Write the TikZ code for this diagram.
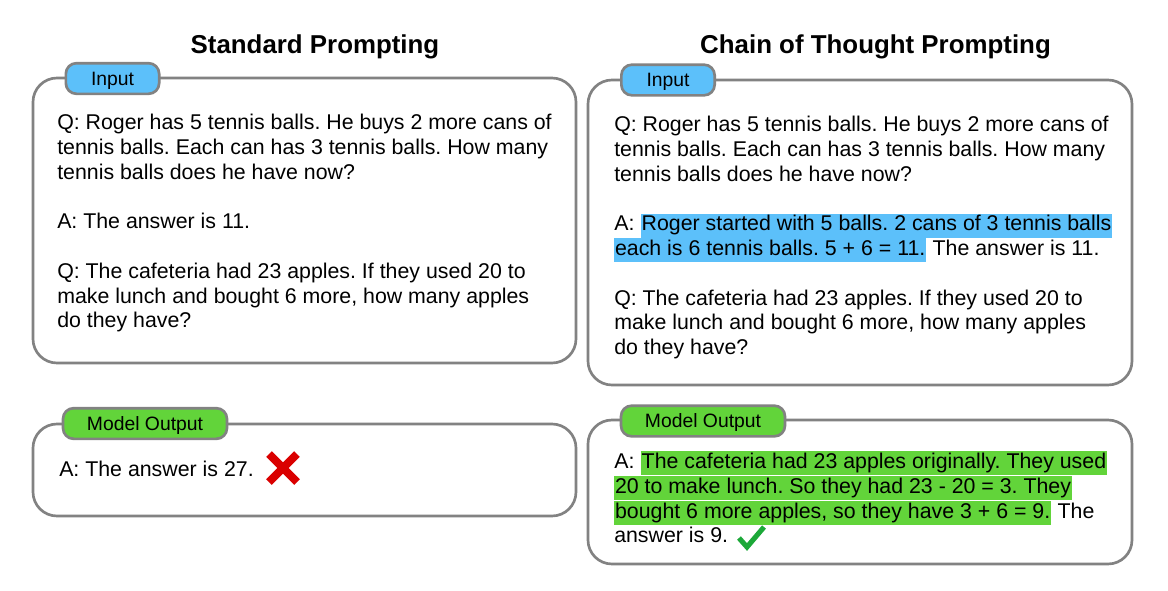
\documentclass[tikz,border=0pt]{standalone}
\usepackage{fontspec}
\setmainfont{Liberation Sans}
\usetikzlibrary{positioning}
\frenchspacing

\definecolor{boxgray}{RGB}{130,130,130}
\definecolor{inblue}{RGB}{92,192,250}
\definecolor{outgreen}{RGB}{98,212,58}
\definecolor{crossred}{RGB}{218,0,0}
\definecolor{tickgreen}{RGB}{28,168,56}

\begin{document}
\begin{tikzpicture}[x=0.75pt, y=-0.75pt,
    panel/.style={draw=boxgray, line width=2pt, rounded corners=18pt, fill=white},
    tab/.style={rectangle, draw=boxgray, line width=2pt, rounded corners=8pt, minimum height=23pt, inner sep=0pt, text height=10.4pt, text depth=0pt, font=\fontsize{14.5}{17}\selectfont},
    tabin/.style={tab, fill=inblue, minimum width=70pt},
    tabout/.style={tab, fill=outgreen, minimum width=123pt},
    heading/.style={font=\fontsize{19.4}{23}\selectfont\bfseries, text height=14pt, text depth=0pt},
    line/.style={anchor=base west, inner sep=0pt, font=\fontsize{16}{18.6}\selectfont},
    hl/.style={line, inner xsep=0.6pt, text height=12.9pt, text depth=5.2pt},
    hlin/.style={hl, fill=inblue},
    hlout/.style={hl, fill=outgreen}
  ]
    \useasboundingbox[fill=white] (0,0) rectangle (1168,590);

    % Headings
    \node (s_title) [heading] at (315,44) {Standard Prompting};
    \node (c_title) [heading] at (875.5,44) {Chain of Thought Prompting};

    % Standard Prompting
    \draw[panel] (33,78) rectangle (576,363);
    \node (s_intab) [tabin] at (112.5,78.5) {Input};
    \node (s_q1) [line] at (57,129.5) {Q: Roger has 5 tennis balls. He buys 2 more cans of};
    \node (s_q2) [line] at (57,154.3) {tennis balls. Each can has 3 tennis balls. How many};
    \node (s_q3) [line] at (57,179.1) {tennis balls does he have now?};
    \node (s_a1) [line] at (57,228.7) {A: The answer is 11.};
    \node (s_q4) [line] at (57,278.3) {Q: The cafeteria had 23 apples. If they used 20 to};
    \node (s_q5) [line] at (57,303.1) {make lunch and bought 6 more, how many apples};
    \node (s_q6) [line] at (57,327.9) {do they have?};

    \draw[panel] (33,424) rectangle (576,516);
    \node (s_outtab) [tabout] at (145,423.5) {Model Output};
    \node (s_out) [line] at (59,476.5) {A: The answer is 27.};
    % wrong answer
    \draw[crossred, line width=6pt] (269,454) -- (297,482);
    \draw[crossred, line width=6pt] (269,482) -- (297,454);

    % Chain of Thought Prompting
    \draw[panel] (588,80) rectangle (1132,385);
    \node (c_intab) [tabin] at (668,80) {Input};
    \node (c_q1) [line] at (614,131.5) {Q: Roger has 5 tennis balls. He buys 2 more cans of};
    \node (c_q2) [line] at (614,156.3) {tennis balls. Each can has 3 tennis balls. How many};
    \node (c_q3) [line] at (614,181.1) {tennis balls does he have now?};
    \node (c_a1) [line] at (614,230.7) {A:\kern0.28em};
    \node (c_a1h) [hlin] at (c_a1.base east) {Roger started with 5 balls. 2 cans of 3 tennis balls};
    \node (c_a2h) [hlin] at (614,255.5) {each is 6 tennis balls. 5 + 6 = 11.};
    \node (c_a2) [line] at (c_a2h.base east) {\kern0.28em The answer is 11.};
    \node (c_q4) [line] at (614,305.1) {Q: The cafeteria had 23 apples. If they used 20 to};
    \node (c_q5) [line] at (614,329.9) {make lunch and bought 6 more, how many apples};
    \node (c_q6) [line] at (614,354.7) {do they have?};

    \draw[panel] (588,420) rectangle (1132,564);
    \node (c_outtab) [tabout] at (703,421) {Model Output};
    \node (c_o1) [line] at (614,468.5) {A:\kern0.28em};
    \node (c_o1h) [hlout] at (c_o1.base east) {The cafeteria had 23 apples originally. They used};
    \node (c_o2h) [hlout] at (614,493.3) {20 to make lunch. So they had 23 - 20 = 3. They};
    \node (c_o3h) [hlout] at (614,518.1) {bought 6 more apples, so they have 3 + 6 = 9.};
    \node (c_o3) [line] at (c_o3h.base east) {\kern0.28em The};
    \node (c_o4) [line] at (614,542.9) {answer is 9.};
    % right answer
    \draw[tickgreen, line width=3.8pt] (739,538) -- (747,547) -- (764,527);

  \end{tikzpicture}
\end{document}
